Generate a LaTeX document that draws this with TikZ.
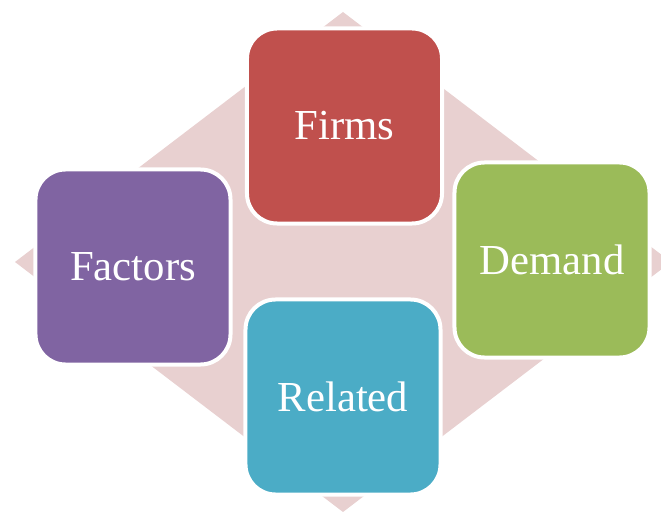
\documentclass[tikz,border=0pt]{standalone}
\usepackage{tikz}
\usepackage{xcolor}
\usepackage{fontspec}
\setmainfont{Liberation Serif}
\usetikzlibrary{positioning}

\definecolor{firmsred}{HTML}{C0504D}
\definecolor{demandgreen}{HTML}{9BBB59}
\definecolor{factorspurple}{HTML}{8064A2}
\definecolor{relatedblue}{HTML}{4BACC6}
\definecolor{backpink}{HTML}{E8D0D0}

\begin{document}
\begin{tikzpicture}[x=0.03cm,y=-0.03cm]
\tikzstyle{box}=[draw=white, line width=0.12cm, rounded corners=0.9cm,
  minimum width=5.85cm, minimum height=5.85cm, inner sep=0pt,
  text=white, font=\fontsize{36.5}{40}\selectfont]
\useasboundingbox (0,0) rectangle (661,513);
\clip (0,0) rectangle (661,513);
\fill [backpink] (15,262) -- (343,12) -- (671,262) -- (343,512) -- cycle;
\node [box, fill=firmsred] (firms) at (344.5,126) {Firms};
\node [box, fill=demandgreen] (demand) at (552,260) {Demand};
\node [box, fill=factorspurple] (factors) at (133,267) {Factors};
\node [box, fill=relatedblue] (related) at (343,397) {Related};
\end{tikzpicture}
\end{document}
